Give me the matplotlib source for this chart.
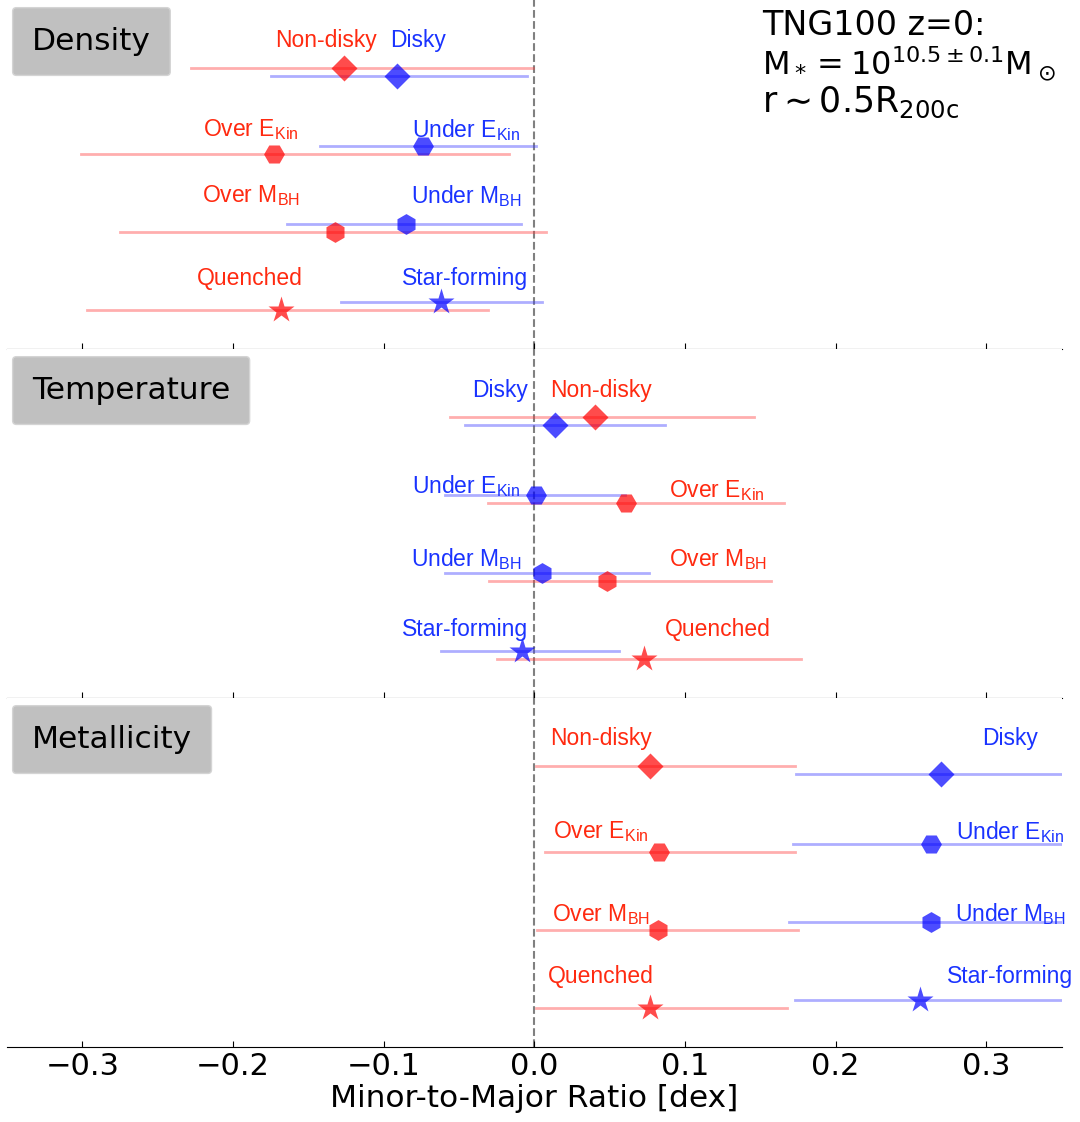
import numpy as np
import matplotlib
matplotlib.use("Agg")
import matplotlib.pyplot as plt

plt.rcParams['font.family'] = ['DejaVu Sans']
plt.rcParams['mathtext.default'] = 'regular'

# panel names, rows listed top to bottom
panels = ["Density", "Temperature", "Metallicity"]
row_y = [4, 3, 2, 1]
markers = ["D", "H", "h", "*"]
red_names = ["Non-disky", "Over E$_\\mathregular{Kin}$", "Over M$_\\mathregular{BH}$", "Quenched"]
blue_names = ["Disky", "Under E$_\\mathregular{Kin}$", "Under M$_\\mathregular{BH}$", "Star-forming"]

# red group: value, lower, upper
red_val = [[-0.126, -0.173, -0.132, -0.168],
           [0.040, 0.061, 0.048, 0.073],
           [0.077, 0.083, 0.082, 0.077]]
red_lo = [[-0.228, -0.301, -0.275, -0.297],
          [-0.056, -0.031, -0.030, -0.025],
          [0.001, 0.007, 0.002, 0.001]]
red_hi = [[-0.001, -0.017, 0.008, -0.031],
          [0.146, 0.166, 0.157, 0.177],
          [0.173, 0.173, 0.175, 0.168]]

# blue group
blue_val = [[-0.091, -0.074, -0.085, -0.062],
            [0.014, 0.001, 0.005, -0.008],
            [0.270, 0.263, 0.263, 0.256]]
blue_lo = [[-0.175, -0.142, -0.164, -0.128],
           [-0.046, -0.059, -0.059, -0.062],
           [0.174, 0.172, 0.169, 0.173]]
blue_hi = [[-0.005, 0.001, -0.009, 0.005],
           [0.087, 0.060, 0.076, 0.056],
           [0.37, 0.37, 0.37, 0.37]]

# where the group names sit
red_lab_x = [[-0.138, -0.188, -0.188, -0.189],
             [0.044, 0.121, 0.122, 0.122],
             [0.044, 0.044, 0.044, 0.044]]
blue_lab_x = [[-0.077, -0.045, -0.045, -0.046],
              [-0.023, -0.045, -0.045, -0.046],
              [0.316, 0.316, 0.316, 0.316]]
lab_y = [[4.40, 3.26, 2.41, 1.35],
         [4.39, 3.16, 2.23, 1.33],
         [4.40, 3.21, 2.15, 1.35]]
red_lab_dy = [[0, 0, 0, 0], [0, -0.05, 0, 0], [0, 0, 0, 0]]

red_c = (1.0, 0.25, 0.25)
blue_c = (0.25, 0.25, 1.0)
red_txt = "#ff2a10"
blue_txt = "#1a33ff"
msize = {"D": 13.5, "H": 15, "h": 15, "*": 20}

fig, axs = plt.subplots(3, 1, figsize=(10.8, 11.22), dpi=100, sharex=True)
fig.subplots_adjust(left=0.0065, right=0.983, top=1.0, bottom=0.0668, hspace=0)

for p, ax in enumerate(axs):
    for i, y in enumerate(row_y):
        off = 0.05 if i == 0 else -0.05
        yr = y + off
        yb = y - off
        ax.plot([red_lo[p][i], red_hi[p][i]], [yr, yr], color=red_c, alpha=0.42, lw=2, zorder=1)
        ax.plot([blue_lo[p][i], blue_hi[p][i]], [yb, yb], color=blue_c, alpha=0.42, lw=2, zorder=1)
        ax.plot(red_val[p][i], yr, marker=markers[i], ms=msize[markers[i]], color=(1, 0, 0),
                alpha=0.7, mec='none', zorder=3)
        ax.plot(blue_val[p][i], yb, marker=markers[i], ms=msize[markers[i]], color=(0, 0, 1),
                alpha=0.7, mec='none', zorder=3)
        ax.text(red_lab_x[p][i], lab_y[p][i] + red_lab_dy[p][i], red_names[i], color=red_txt,
                ha='center', va='center', fontsize=16.5, family='Liberation Sans')
        ax.text(blue_lab_x[p][i], lab_y[p][i], blue_names[i], color=blue_txt,
                ha='center', va='center', fontsize=16.5, family='Liberation Sans')

    ax.axvline(0, color='gray', ls='--', lw=1.5, zorder=0)
    ax.set_xlim(-0.35, 0.35)
    ax.set_ylim(0.45, 4.92)
    ax.set_yticks([])
    for s in ["top", "left", "right"]:
        ax.spines[s].set_visible(False)
    ax.tick_params(axis='x', direction='in', length=4, labelsize=22)
    ax.text(0.0237, 0.881, panels[p], transform=ax.transAxes, fontsize=22.5, va='center', ha='left',
            bbox=dict(boxstyle='round,pad=0.62,rounding_size=0.12', fc='silver', ec='#d4d4d4'))

axs[2].set_xticks([-0.3, -0.2, -0.1, 0.0, 0.1, 0.2, 0.3])
axs[2].set_xlabel("Minor-to-Major Ratio [dex]", fontsize=22.5, labelpad=2)

axs[0].text(0.716, 0.900, "TNG100 z=0:", transform=axs[0].transAxes,
            fontsize=24, va='baseline', ha='left')
axs[0].text(0.716, 0.786, "$M_* = 10^{10.5\\pm0.1}M_\\odot$", transform=axs[0].transAxes,
            fontsize=23, va='baseline', ha='left')
axs[0].text(0.716, 0.680, "$r\\sim0.5R_{200c}$", transform=axs[0].transAxes,
            fontsize=25, va='baseline', ha='left')

plt.savefig("out.png", dpi=100)
